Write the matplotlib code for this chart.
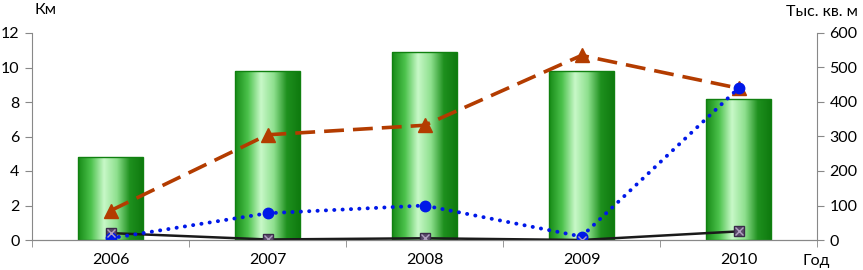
import numpy as np
import matplotlib
matplotlib.use('Agg')
import matplotlib.pyplot as plt
from matplotlib.colors import LinearSegmentedColormap

years = ['2006', '2007', '2008', '2009', '2010']
bars_km = [4.8, 9.8, 10.9, 9.8, 8.2]
brown_km = [1.7, 6.1, 6.65, 10.7, 8.8]
blue_km = [0.1, 1.55, 2.0, 0.2, 8.8]
black_km = [0.4, 0.03, 0.1, 0.0, 0.5]

left_ticks = [0, 2, 4, 6, 8, 10, 12]
right_ticks = [0, 100, 200, 300, 400, 500, 600]

plt.rcParams['font.family'] = ['Lato', 'DejaVu Sans']
plt.rcParams['font.size'] = 11.5

fig = plt.figure(figsize=(8.63, 2.70), dpi=100)
ax = fig.add_axes([32 / 863, 30 / 270, 785 / 863, 207 / 270])

x = np.arange(len(years))
width = 0.41

# green cylinder-like bars
cmap = LinearSegmentedColormap.from_list(
    'bar', ['#168a16', '#4cc24c', '#c8f8c8', '#8ee08e', '#1e901e', '#0f7a0f'])
grad = np.linspace(0, 1, 256).reshape(1, -1)
bars = ax.bar(x, bars_km, width=width, color='none', edgecolor='#108010',
              linewidth=1.0, zorder=2)
for b in bars:
    x0, y0 = b.get_x(), b.get_y()
    im = ax.imshow(grad, cmap=cmap, aspect='auto', zorder=1.5,
                   extent=[x0, x0 + b.get_width(), y0, y0 + b.get_height()])
    im.set_clip_path(b)

ax.plot(x, black_km, color='#1a1a1a', linewidth=1.8, zorder=3)
ax.plot(x, black_km, linestyle='none', marker='s', markersize=7,
        markerfacecolor='#5a4a6a', markeredgecolor='#3a2a4a', zorder=4)
ax.plot(x, black_km, linestyle='none', marker='x', markersize=6,
        markeredgecolor='#b0a0c0', markeredgewidth=1, zorder=5)

ax.plot(x, brown_km, color='#b33c00', linewidth=2.6, dashes=(5.5, 2.5),
        marker='^', markersize=10, markerfacecolor='#b33c00',
        markeredgecolor='#b33c00', zorder=3)
ax.plot(x, blue_km, color='#0018e8', linewidth=2.8, linestyle=(0, (0.05, 2.1)),
        dash_capstyle='round', marker='o', markersize=7.5,
        markerfacecolor='#0018e8', markeredgecolor='#0018e8', zorder=4)

ax.set_xlim(-0.5, len(years) - 0.5)
ax.set_ylim(0, 12)
ax.set_yticks(left_ticks)
ax.set_xticks(x)
ax.set_xticklabels(years)
ax.set_xticks(np.arange(-0.5, len(years)), minor=True)
ax.tick_params(axis='x', which='major', length=0, pad=9)
ax.tick_params(axis='x', which='minor', length=5, color='#888888')
ax.tick_params(axis='y', length=5, color='#888888', pad=4)

ax2 = ax.twinx()
ax2.set_ylim(0, 600)
ax2.set_yticks(right_ticks)
ax2.tick_params(axis='y', length=5, color='#888888', pad=4)

for a in (ax, ax2):
    a.spines['top'].set_visible(False)
    for s in ['left', 'right', 'bottom']:
        a.spines[s].set_color('#888888')
ax2.spines['left'].set_visible(False)
ax.spines['right'].set_visible(False)

fig.text(45 / 863, 1 - 10 / 270, 'Км', ha='center', va='center')
fig.text(858 / 863, 1 - 12 / 270, 'Тыс. кв. м', ha='right', va='center')
fig.text(816 / 863, 1 - 261 / 270, 'Год', ha='center', va='center')

fig.savefig('out.png', dpi=100)
